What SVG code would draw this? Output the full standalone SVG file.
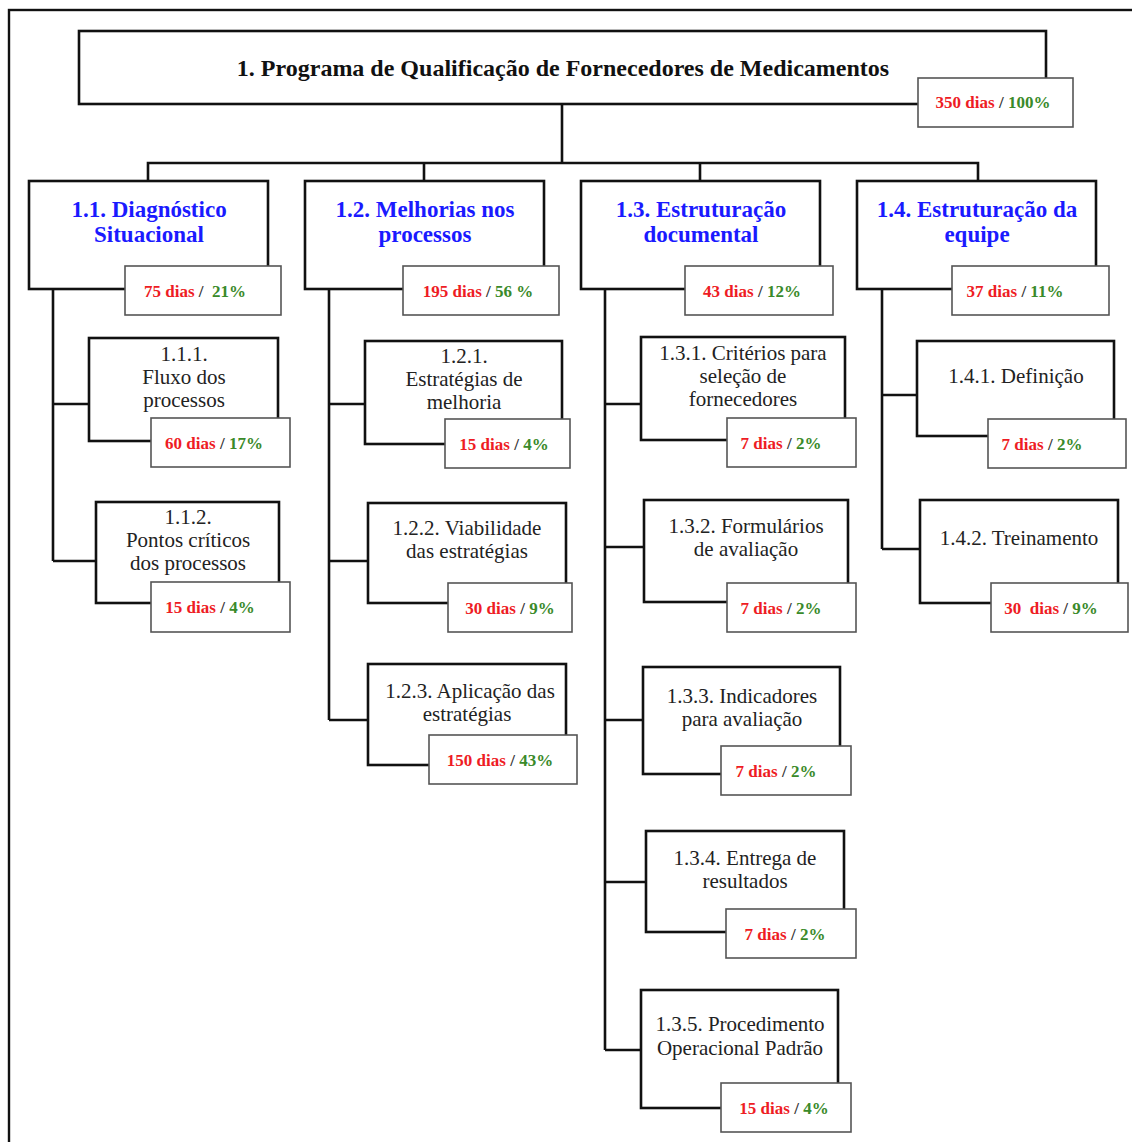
<svg xmlns="http://www.w3.org/2000/svg" width="1132" height="1142" viewBox="0 0 1132 1142">
<style>
text{font-family:"Liberation Serif","Times New Roman",serif;}
.box{fill:#fff;stroke:#111;stroke-width:2.6;}
.tag{fill:#fff;stroke:#555;stroke-width:1.6;}
.ttl{font-size:24px;font-weight:bold;fill:#111;text-anchor:middle;}
.l1{font-size:23px;font-weight:bold;fill:#1a1aff;text-anchor:middle;}
.l2{font-size:21px;fill:#222;text-anchor:middle;}
.tt{font-size:17px;font-weight:bold;text-anchor:middle;white-space:pre;}
.r{fill:#ee1c24;}
.g{fill:#3a8a2a;}
.s{fill:#333;}
.con{fill:none;stroke:#111;stroke-width:2.6;}
.frame{fill:none;stroke:#111;stroke-width:2.4;}
</style>
<rect x="0" y="0" width="1132" height="1142" fill="#fff"/>
<rect class="frame" x="9" y="10" width="1140" height="1150"/>

<g id="connectors">
<path class="con" d="M562,104V163M148,181V163H978V181M424,163V181M700,163V181"/>
<path class="con" d="M53,289V561M53,404H89M53,561H96"/>
<path class="con" d="M329,289V720M329,404H365M329,561H368M329,720H368"/>
<path class="con" d="M605,289V1050M605,404H641M605,547H644M605,720H643M605,882H646M605,1050H641"/>
<path class="con" d="M882,289V549M882,395H917M882,549H920"/>
</g>

<g id="n1">
<rect class="box" x="79" y="31" width="967" height="73"/>
<text class="ttl" x="563" y="76">1. Programa de Qualificação de Fornecedores de Medicamentos</text>
<rect class="tag" x="918" y="78" width="155" height="49"/>
<text class="tt" x="993" y="108"><tspan class="r">350 dias</tspan><tspan class="s"> / </tspan><tspan class="g">100%</tspan></text>
</g>

<g id="n1-1">
<rect class="box" x="29" y="181" width="239" height="108"/>
<text class="l1" x="149" y="217">1.1. Diagnóstico</text>
<text class="l1" x="149" y="242">Situacional</text>
<rect class="tag" x="125" y="266" width="156" height="49"/>
<text class="tt" x="195" y="297"><tspan class="r">75 dias</tspan><tspan class="s"> /  </tspan><tspan class="g">21%</tspan></text>
</g>

<g id="n1-2">
<rect class="box" x="305" y="181" width="239" height="108"/>
<text class="l1" x="425" y="217">1.2. Melhorias nos</text>
<text class="l1" x="425" y="242">processos</text>
<rect class="tag" x="403" y="266" width="156" height="49"/>
<text class="tt" x="478" y="297"><tspan class="r">195 dias</tspan><tspan class="s"> / </tspan><tspan class="g">56 %</tspan></text>
</g>

<g id="n1-3">
<rect class="box" x="581" y="181" width="239" height="108"/>
<text class="l1" x="701" y="217">1.3. Estruturação</text>
<text class="l1" x="701" y="242">documental</text>
<rect class="tag" x="685" y="266" width="148" height="49"/>
<text class="tt" x="752" y="297"><tspan class="r">43 dias</tspan><tspan class="s"> / </tspan><tspan class="g">12%</tspan></text>
</g>

<g id="n1-4">
<rect class="box" x="857" y="181" width="239" height="108"/>
<text class="l1" x="977" y="217">1.4. Estruturação da</text>
<text class="l1" x="977" y="242">equipe</text>
<rect class="tag" x="952" y="266" width="157" height="49"/>
<text class="tt" x="1015" y="297"><tspan class="r">37 dias</tspan><tspan class="s"> / </tspan><tspan class="g">11%</tspan></text>
</g>

<g id="n1-1-1">
<rect class="box" x="89" y="338" width="189" height="103"/>
<text class="l2" x="184" y="361">1.1.1.</text>
<text class="l2" x="184" y="384">Fluxo dos</text>
<text class="l2" x="184" y="407">processos</text>
<rect class="tag" x="151" y="418" width="139" height="49"/>
<text class="tt" x="214" y="449"><tspan class="r">60 dias</tspan><tspan class="s"> / </tspan><tspan class="g">17%</tspan></text>
</g>

<g id="n1-1-2">
<rect class="box" x="96" y="502" width="183" height="101"/>
<text class="l2" x="188" y="524">1.1.2.</text>
<text class="l2" x="188" y="547">Pontos críticos</text>
<text class="l2" x="188" y="570">dos processos</text>
<rect class="tag" x="151" y="582" width="139" height="50"/>
<text class="tt" x="210" y="613"><tspan class="r">15 dias</tspan><tspan class="s"> / </tspan><tspan class="g">4%</tspan></text>
</g>

<g id="n1-2-1">
<rect class="box" x="365" y="341" width="197" height="103"/>
<text class="l2" x="464" y="363">1.2.1.</text>
<text class="l2" x="464" y="386">Estratégias de</text>
<text class="l2" x="464" y="409">melhoria</text>
<rect class="tag" x="445" y="419" width="125" height="49"/>
<text class="tt" x="504" y="450"><tspan class="r">15 dias</tspan><tspan class="s"> / </tspan><tspan class="g">4%</tspan></text>
</g>

<g id="n1-2-2">
<rect class="box" x="368" y="503" width="198" height="100"/>
<text class="l2" x="467" y="535">1.2.2. Viabilidade</text>
<text class="l2" x="467" y="558">das estratégias</text>
<rect class="tag" x="448" y="583" width="124" height="49"/>
<text class="tt" x="510" y="614"><tspan class="r">30 dias</tspan><tspan class="s"> / </tspan><tspan class="g">9%</tspan></text>
</g>

<g id="n1-2-3">
<rect class="box" x="368" y="664" width="198" height="101"/>
<text class="l2" x="470" y="698">1.2.3. Aplicação das</text>
<text class="l2" x="467" y="721">estratégias</text>
<rect class="tag" x="429" y="735" width="148" height="49"/>
<text class="tt" x="500" y="766"><tspan class="r">150 dias</tspan><tspan class="s"> / </tspan><tspan class="g">43%</tspan></text>
</g>

<g id="n1-3-1">
<rect class="box" x="641" y="337" width="204" height="103"/>
<text class="l2" x="743" y="360">1.3.1. Critérios para</text>
<text class="l2" x="743" y="383">seleção de</text>
<text class="l2" x="743" y="406">fornecedores</text>
<rect class="tag" x="727" y="418" width="129" height="49"/>
<text class="tt" x="781" y="449"><tspan class="r">7 dias</tspan><tspan class="s"> / </tspan><tspan class="g">2%</tspan></text>
</g>

<g id="n1-3-2">
<rect class="box" x="644" y="500" width="204" height="102"/>
<text class="l2" x="746" y="533">1.3.2. Formulários</text>
<text class="l2" x="746" y="556">de avaliação</text>
<rect class="tag" x="727" y="583" width="129" height="49"/>
<text class="tt" x="781" y="614"><tspan class="r">7 dias</tspan><tspan class="s"> / </tspan><tspan class="g">2%</tspan></text>
</g>

<g id="n1-3-3">
<rect class="box" x="643" y="667" width="197" height="107"/>
<text class="l2" x="742" y="703">1.3.3. Indicadores</text>
<text class="l2" x="742" y="726">para avaliação</text>
<rect class="tag" x="721" y="746" width="130" height="49"/>
<text class="tt" x="776" y="777"><tspan class="r">7 dias</tspan><tspan class="s"> / </tspan><tspan class="g">2%</tspan></text>
</g>

<g id="n1-3-4">
<rect class="box" x="646" y="831" width="198" height="101"/>
<text class="l2" x="745" y="865">1.3.4. Entrega de</text>
<text class="l2" x="745" y="888">resultados</text>
<rect class="tag" x="726" y="909" width="130" height="49"/>
<text class="tt" x="785" y="940"><tspan class="r">7 dias</tspan><tspan class="s"> / </tspan><tspan class="g">2%</tspan></text>
</g>

<g id="n1-3-5">
<rect class="box" x="641" y="990" width="197" height="118"/>
<text class="l2" x="740" y="1031">1.3.5. Procedimento</text>
<text class="l2" x="740" y="1055">Operacional Padrão</text>
<rect class="tag" x="721" y="1083" width="130" height="49"/>
<text class="tt" x="784" y="1114"><tspan class="r">15 dias</tspan><tspan class="s"> / </tspan><tspan class="g">4%</tspan></text>
</g>

<g id="n1-4-1">
<rect class="box" x="917" y="341" width="197" height="95"/>
<text class="l2" x="1016" y="383">1.4.1. Definição</text>
<rect class="tag" x="988" y="419" width="138" height="49"/>
<text class="tt" x="1042" y="450"><tspan class="r">7 dias</tspan><tspan class="s"> / </tspan><tspan class="g">2%</tspan></text>
</g>

<g id="n1-4-2">
<rect class="box" x="920" y="500" width="198" height="103"/>
<text class="l2" x="1019" y="545">1.4.2. Treinamento</text>
<rect class="tag" x="991" y="583" width="137" height="49"/>
<text class="tt" x="1051" y="614"><tspan class="r">30  dias</tspan><tspan class="s"> / </tspan><tspan class="g">9%</tspan></text>
</g>
</svg>
